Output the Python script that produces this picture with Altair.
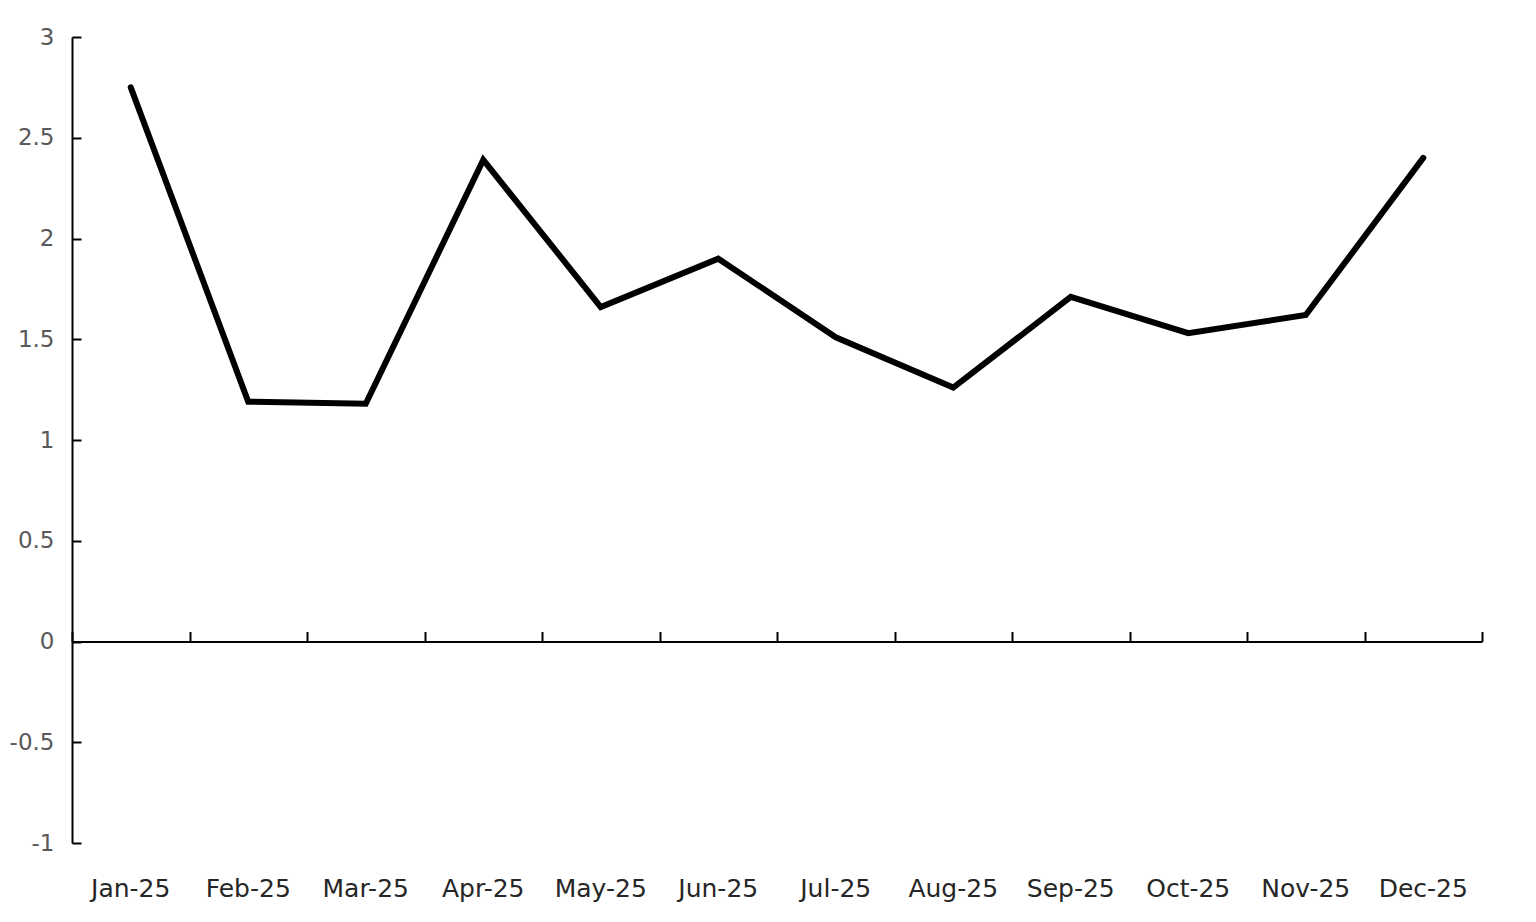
import altair as alt
import pandas as pd

months = ["Jan-25", "Feb-25", "Mar-25", "Apr-25", "May-25", "Jun-25",
          "Jul-25", "Aug-25", "Sep-25", "Oct-25", "Nov-25", "Dec-25"]
values = [2.75, 1.19, 1.18, 2.39, 1.66, 1.90, 1.51, 1.26, 1.71, 1.53, 1.62, 2.40]
y_ticks = [-1, -0.5, 0, 0.5, 1, 1.5, 2, 2.5, 3]

df = pd.DataFrame({"month": months, "value": values})

W, H = 1410, 806
Y_MIN, Y_MAX = -1, 3
zero_offset = -H * (Y_MAX - 0) / (Y_MAX - Y_MIN)

FONT = "DejaVu Sans"

x_scale = alt.Scale(type="band", domain=months, paddingInner=0, paddingOuter=0)
y_scale = alt.Scale(domain=[Y_MIN, Y_MAX], nice=False, zero=False)

line = alt.Chart(df).mark_line(
    color="black", strokeWidth=6, strokeCap="round", strokeJoin="miter"
).encode(
    x=alt.X("month:N", sort=months, scale=x_scale, bandPosition=0.5,
            axis=alt.Axis(orient="bottom", title=None, domain=False, ticks=False,
                          tickSize=0, labelPadding=33, labelFont=FONT,
                          labelFontSize=25, labelColor="#262626", labelAngle=0,
                          grid=False)),
    y=alt.Y("value:Q", scale=y_scale,
            axis=alt.Axis(orient="left", title=None, values=y_ticks, domain=False,
                          ticks=False, tickSize=0, labelPadding=18,
                          labelExpr="'' + datum.value", labelFont=FONT,
                          labelFontSize=23, labelColor="#595959", grid=False)),
)

axes = alt.Chart(df).mark_point(opacity=0).encode(
    x=alt.X("month:N", sort=months, scale=x_scale, bandPosition=0.5,
            axis=alt.Axis(orient="top", offset=zero_offset, title=None, labels=False,
                          domainColor="black", domainWidth=2, tickColor="black",
                          tickWidth=2, tickSize=10, tickBand="extent", grid=False)),
    y=alt.Y("value:Q", scale=y_scale,
            axis=alt.Axis(orient="right", offset=-W, title=None, labels=False,
                          values=y_ticks, domainColor="black", domainWidth=2,
                          tickColor="black", tickWidth=2, tickSize=9, grid=False)),
)

chart = alt.layer(line, axes).resolve_axis(
    x="independent", y="independent"
).properties(
    width=W, height=H,
    autosize=alt.AutoSizeParams(type="none"),
    padding={"left": 64, "top": 29, "right": 40, "bottom": 60},
).configure_view(stroke=None)

chart.save("out.html", embed_options={"renderer": "svg", "actions": False})
